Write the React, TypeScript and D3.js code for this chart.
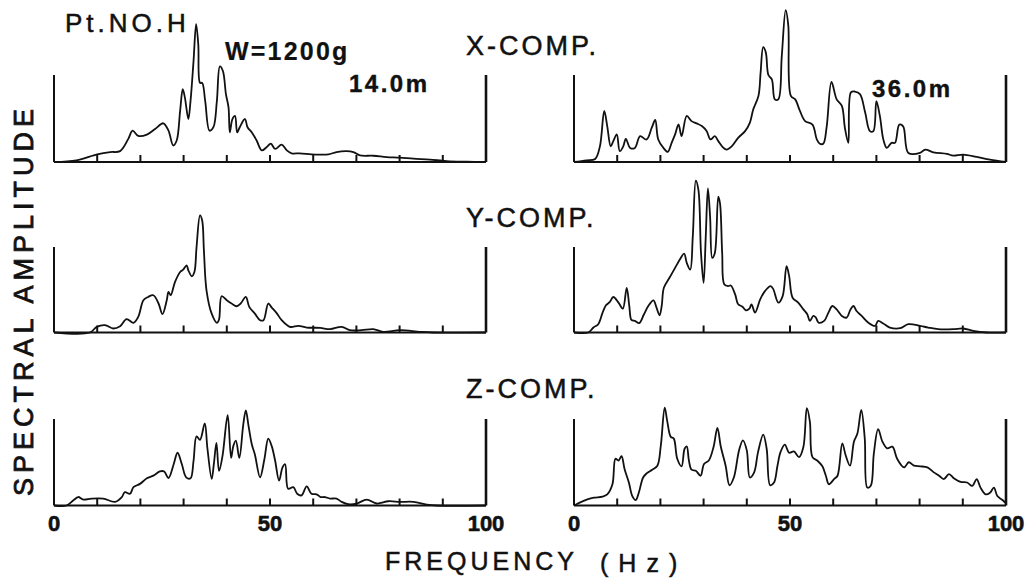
import React from "react";
import * as d3 from "d3";

// ---------- data (frequency Hz, relative spectral amplitude; 100 = axis height) ----------
const xComp14: [number, number][] = [
  [0, 0], [5.2, 1.9], [10, 8.7], [13, 11.4], [15.3, 12.5], [17.2, 26.6], [18.2, 36], [19.5, 30],
  [21.5, 31.5], [23.4, 38], [25.3, 44.5], [26.5, 36], [27.6, 19], [28.4, 24.7], [29.2, 59],
  [29.8, 83.7], [30.3, 74], [31.1, 49.4], [31.6, 70], [32.3, 116], [32.9, 158.5], [33.4, 135],
  [33.8, 91], [34.3, 91], [35, 70], [36, 36], [36.9, 40], [37.7, 70], [38.4, 110], [39.1, 104.6],
  [39.8, 78], [40.4, 62.7], [40.7, 34], [41.3, 49.4], [41.9, 53], [42.4, 34], [43, 40],
  [44.2, 49.4], [44.8, 40], [45.8, 34], [46.9, 24.7], [48.1, 13.3], [49.2, 17], [50.2, 21],
  [51.2, 15], [52.7, 20], [53.9, 13.3], [55, 10], [56.9, 10], [59.6, 8.7], [61.6, 8.4],
  [63.5, 8.7], [65.4, 11.4], [67.7, 12.5], [69.3, 11.4], [70.8, 7.6], [73.9, 7.2], [77, 5.7],
  [80, 5], [83.2, 3.8], [87, 2.7], [90.9, 1.1], [95.5, 0.4], [100, 0],
];

const xComp36: [number, number][] = [
  [0, 0], [2.9, 1.9], [4.9, 3.5], [6, 18], [7, 58.7], [7.7, 41], [8.5, 18], [9.1, 24], [9.9, 31.7],
  [10.6, 12.4], [11.4, 18], [12, 26.6], [13, 16.2], [14.1, 16.2], [15.3, 29.7], [16.8, 25.9],
  [18, 39.4], [18.8, 48.3], [19.5, 25.9], [20.7, 16.2], [21.7, 11.6], [22.6, 22], [23.4, 31.7],
  [24.2, 43.2], [24.9, 29.7], [26.1, 52.9], [27.2, 47], [28.4, 44.4], [29.6, 41.3], [30.7, 35.5],
  [31.6, 25.9], [32.6, 29.7], [33.4, 24], [34.6, 16.2], [35.3, 14.3], [36.5, 18], [38, 27.8],
  [39.6, 35.5], [40.7, 45], [41.5, 60.6], [42.7, 76], [43.2, 103], [43.8, 132], [44.4, 126],
  [45, 100], [45.8, 95], [46.5, 72], [47.3, 72], [48.1, 122], [49, 174.5], [49.6, 157],
  [50.2, 76], [51.2, 72], [52.3, 58.7], [53.5, 47], [55.2, 43], [56.2, 26], [56.9, 21],
  [57.7, 21], [58.5, 41], [59.6, 92], [60.8, 72], [62, 64.5], [62.7, 39.4], [63.5, 22],
  [64.1, 80], [65, 81], [66.2, 78], [67.4, 56.8], [68.5, 35.5], [69.3, 35.5], [70, 70],
  [70.8, 53], [71.6, 26], [72.4, 16.2], [73.5, 22], [74.3, 22], [75.3, 43], [76.2, 41],
  [77.4, 10.4], [80.1, 10.4], [81.3, 14.3], [83.2, 11.2], [86.3, 9.3], [87.8, 7.3], [90.1, 8.5],
  [93.2, 5.8], [96.3, 2.7], [100, 0],
];

const yComp14: [number, number][] = [
  [0, 0], [8.3, 0], [9.9, 6.6], [11.8, 8.6], [13.7, 4.7], [15.3, 7.4], [16.8, 15.6], [18.4, 11.3],
  [19.5, 18.3], [20.7, 37.7], [21.8, 41.6], [23, 43.6], [24.2, 33.9], [25.1, 21.4], [26.1, 37.7],
  [26.5, 47.5], [27, 43.6], [28, 59], [29.2, 70.8], [29.9, 73.5], [30.7, 78.6], [31.1, 72.8],
  [31.9, 65.8], [32.5, 70.8], [33, 100], [33.8, 137], [34.3, 131], [34.7, 96], [35.3, 49.4],
  [36.5, 22], [37.7, 11.3], [38.2, 15.2], [38.8, 42.4], [40, 37.7], [41.1, 33.9], [42.3, 30.7],
  [43.2, 33.9], [44.4, 41.6], [45.2, 30], [46.5, 22], [47.7, 14.4], [48.5, 14.4], [49.6, 33.9],
  [50.4, 29.2], [51.5, 23], [52.7, 14.4], [54.6, 6.6], [56.6, 7.8], [58.5, 5.8], [61.6, 5.4],
  [63.9, 3.9], [66.6, 6.6], [68.5, 2.7], [71.2, 2.7], [73.9, 3.9], [76.2, 0.8], [80.1, 2.7],
  [84.7, 0.8], [87.8, 0], [100, 0],
];

const yComp36: [number, number][] = [
  [0, 0], [3.3, 0], [4.5, 5.8], [5.6, 9.7], [6.6, 23], [7.4, 31.8], [8.3, 35.7], [9.1, 41.5],
  [10.3, 34.9], [11.3, 27.9], [12.2, 52.3], [12.8, 31], [13.3, 14.7], [14.1, 13.6], [15.1, 10.9],
  [16.2, 21.3], [17.2, 31], [18.4, 37.6], [19.1, 29], [19.8, 20.2], [20.3, 31], [20.8, 52.3],
  [22.1, 64], [23.4, 75.6], [24.5, 85.3], [25.5, 92.2], [26.1, 81.4], [26.9, 73.6], [27.5, 112.4],
  [28.2, 177.5], [28.8, 166.7], [29.4, 93], [30, 58], [30.5, 112.4], [31, 168.6], [31.5, 135.7],
  [32, 87.2], [32.6, 93], [33.4, 159], [33.8, 151], [34.3, 93], [34.8, 56.2], [35.7, 54.3],
  [36.3, 55], [37.3, 44.6], [38, 33], [39, 30.2], [39.8, 26], [40.6, 28], [41.1, 33],
  [41.9, 23.3], [43.1, 38.8], [44.2, 48.4], [45.5, 54.3], [46.1, 51], [47.3, 34.9], [48.3, 42.6],
  [49.2, 77.5], [49.8, 66], [50.6, 40.7], [51.9, 34.9], [53.1, 27], [54, 21.3], [54.6, 13.6],
  [55.4, 19.4], [56, 17.4], [56.6, 11.6], [57.9, 13.6], [58.9, 23.3], [59.8, 31], [60.8, 27],
  [62, 19.4], [63.1, 17.4], [64, 27], [64.7, 31], [65.4, 25.2], [66.6, 19.4], [68.1, 11.6],
  [69.7, 7.8], [70.4, 13.6], [71.6, 10.5], [73.1, 5.8], [75.5, 5], [77.4, 9.7], [80.1, 7.8],
  [82, 5.8], [84.3, 3.9], [87.8, 3.9], [90.1, 4.7], [92.4, 1.9], [95.5, 0], [100, 0],
];

const zComp14: [number, number][] = [
  [0, 0], [2.9, 0], [4.5, 6], [5.6, 9.8], [6.8, 6.8], [8.7, 8], [11.4, 8], [14.1, 4.2], [15.7, 9.8],
  [16.4, 15.5], [17.6, 13.6], [18.4, 21.2], [19.9, 25], [21.5, 31.4], [23, 34.5], [24.5, 39.4],
  [25.5, 39.4], [26.5, 31.8], [27.7, 47.7], [28.6, 61], [29.6, 47.7], [30.6, 32.6], [31.6, 31.4],
  [32.3, 51.5], [33, 80], [33.8, 76], [34.9, 95], [35.5, 66.7], [36.5, 30.7], [37, 47.7],
  [37.6, 72.3], [38.2, 40], [39, 57], [40.2, 104.5], [41, 55], [41.5, 68.6], [42.1, 75],
  [42.9, 55], [43.8, 93], [44.4, 110], [45, 93], [45.8, 70.5], [46.5, 59], [47.7, 32.6],
  [48.7, 53.4], [49.6, 77.3], [50.4, 68.6], [51.2, 51.5], [52.1, 28.8], [52.9, 44], [53.5, 47.7],
  [54.2, 19.3], [55.4, 21.2], [56.3, 13.6], [57.3, 11.7], [58.5, 22], [59.6, 13.6], [60.8, 12.9],
  [61.7, 9.8], [62.7, 9.8], [63.9, 8], [65.4, 8], [66.6, 4.2], [68.1, 1.5], [70.1, 2.3],
  [72.4, 6.8], [74.7, 2.3], [77.4, 4.9], [80.1, 4.2], [83.2, 4.2], [86.3, 1.1], [88.6, 0], [100, 0],
];

const zComp36: [number, number][] = [
  [0, 0], [1.2, 3.1], [3.1, 7], [4.6, 9], [6.6, 10.2], [7.7, 12.9], [8.9, 24.6], [9.6, 54],
  [10.3, 52], [11, 57], [11.7, 42.2], [12.7, 26.6], [13.5, 10.9], [14.3, 6.3], [15, 14.8],
  [16, 32.4], [16.8, 37.1], [18.1, 41.4], [19.3, 46], [20.1, 69.5], [21, 113], [21.6, 97],
  [22.4, 79.3], [23.1, 77.3], [23.9, 54], [24.9, 45.3], [25.6, 65.6], [26.1, 68.4], [26.6, 52],
  [27.2, 41.4], [28.2, 40.2], [29.3, 34.4], [30.1, 48], [31.2, 52], [32.3, 67.6], [33.2, 89.8],
  [34, 67.6], [35.1, 46], [36, 23.4], [37, 32.4], [38.2, 63.7], [39.1, 75.4], [40, 63.7],
  [40.7, 32.4], [41.7, 38.3], [42.6, 61.7], [43.8, 82], [44.6, 65.6], [45.4, 23.4], [46.3, 26.6],
  [47.1, 46], [47.8, 61.7], [48.8, 70.3], [49.8, 61], [50.9, 62.5], [52.1, 55.9], [53.1, 67.6],
  [53.9, 112.5], [54.6, 97], [55.2, 55.9], [56.3, 52], [57.5, 45.3], [58.3, 34.4], [59, 24.6],
  [60.2, 30.5], [61, 34.4], [62.1, 71.9], [62.9, 57.8], [63.9, 46], [64.8, 73.8], [65.6, 83.2],
  [66.5, 110.5], [67.3, 77.7], [67.9, 20.7], [68.7, 22.7], [69.4, 59.8], [70.4, 88.3],
  [71.4, 73.8], [72.5, 66], [73.7, 68], [74.8, 54], [76.4, 44], [77.5, 50], [78.7, 46],
  [80.2, 45.3], [81.8, 44], [83.3, 38.3], [84.5, 34.4], [85.6, 30.5], [86.8, 36.3], [88, 31.3],
  [89.5, 27.3], [91, 26.6], [92.2, 22.7], [93.2, 30.5], [94.1, 20.7], [95.3, 12.9], [96.3, 14.8],
  [97.2, 20.7], [98, 10.9], [99.2, 6.3], [100, 2.3],
];

const minorTicks = [10, 20, 30, 40, 50, 60, 70, 80, 90];
const labelTicks = [0, 50, 100];
const compLabels = ["X-COMP.", "Y-COMP.", "Z-COMP."];
const depthLabels = ["14.0m", "36.0m"];
const seriesGrid = [
  [xComp14, xComp36],
  [yComp14, yComp36],
  [zComp14, zComp36],
];

// ---------- layout ----------
const W = 1033;
const H = 586;
const COLS = [
  { x0: 54, x1: 486 },
  { x0: 574, x1: 1006 },
];
const ROWS = [
  { base: 162, top: 75 },
  { base: 332.5, top: 247 },
  { base: 505.5, top: 419 },
];
const FONT = "'Liberation Sans', Arial, Helvetica, sans-serif";
const INK = "#111";

function Panel({ data, col, row }: { data: [number, number][]; col: number; row: number }) {
  const c = COLS[col];
  const r = ROWS[row];
  const x = d3.scaleLinear().domain([0, 100]).range([c.x0, c.x1]);
  const y = d3.scaleLinear().domain([0, 100]).range([r.base, r.top]);
  const line = d3
    .line<[number, number]>()
    .x((d) => x(d[0]))
    .y((d) => y(d[1]))
    .curve(d3.curveCatmullRom.alpha(0.5));
  return (
    <g>
      <path d={line(data) || ""} fill="none" stroke={INK} strokeWidth={1.8} strokeLinejoin="round" />
      <line x1={x(0)} x2={x(100)} y1={y(0)} y2={y(0)} stroke={INK} strokeWidth={2} />
      <line x1={x(0)} x2={x(0)} y1={y(0)} y2={y(100)} stroke={INK} strokeWidth={2} />
      <line x1={x(100)} x2={x(100)} y1={y(0)} y2={y(100)} stroke={INK} strokeWidth={2.6} />
      {minorTicks.map((t) => (
        <line key={t} x1={x(t)} x2={x(t)} y1={y(0)} y2={y(0) - 7} stroke={INK} strokeWidth={2} />
      ))}
      {row === 2 &&
        labelTicks.map((t) => (
          <text
            key={t}
            x={x(t)}
            y={531}
            textAnchor="middle"
            fontFamily={FONT}
            fontWeight="bold"
            fontSize={22}
            fill={INK}
            stroke={INK}
            strokeWidth={0.6}
          >
            {t}
          </text>
        ))}
    </g>
  );
}

export default function App() {
  const reg = { fontFamily: FONT, fill: INK, stroke: INK, strokeWidth: 0.5 };
  return (
    <svg
      width={W}
      height={H}
      viewBox={`0 0 ${W} ${H}`}
      style={{ position: "absolute", left: 0, top: 0, background: "#fff" }}
    >
      <rect width={W} height={H} fill="#fff" />
      {seriesGrid.map((rowData, ri) =>
        rowData.map((d, ci) => <Panel key={`${ri}-${ci}`} data={d} col={ci} row={ri} />)
      )}
      {compLabels.map((t, i) => (
        <text key={t} x={466} y={[55, 227, 398][i]} fontSize={27} letterSpacing={3} {...reg}>
          {t}
        </text>
      ))}
      <text x={65} y={32} fontSize={26} letterSpacing={4} {...reg}>
        Pt.NO.H
      </text>
      <text x={225} y={60} fontSize={25} fontWeight="bold" letterSpacing={2.2} {...reg} strokeWidth={0.2}>
        W=1200g
      </text>
      <text x={349} y={92} fontSize={24} fontWeight="bold" letterSpacing={2.5} {...reg} strokeWidth={0.4}>
        {depthLabels[0]}
      </text>
      <text x={872} y={97} fontSize={24} fontWeight="bold" letterSpacing={2.5} {...reg} strokeWidth={0.4}>
        {depthLabels[1]}
      </text>
      <text
        transform="translate(33,300) rotate(-90)"
        textAnchor="middle"
        fontSize={27}
        letterSpacing={5}
        {...reg}
        strokeWidth={0.8}
      >
        SPECTRAL AMPLITUDE
      </text>
      <text x={385} y={570} fontSize={25} letterSpacing={4} {...reg}>
        FREQUENCY
      </text>
      <text x={600} y={572} fontSize={25} letterSpacing={10} {...reg}>
        (Hz)
      </text>
    </svg>
  );
}
